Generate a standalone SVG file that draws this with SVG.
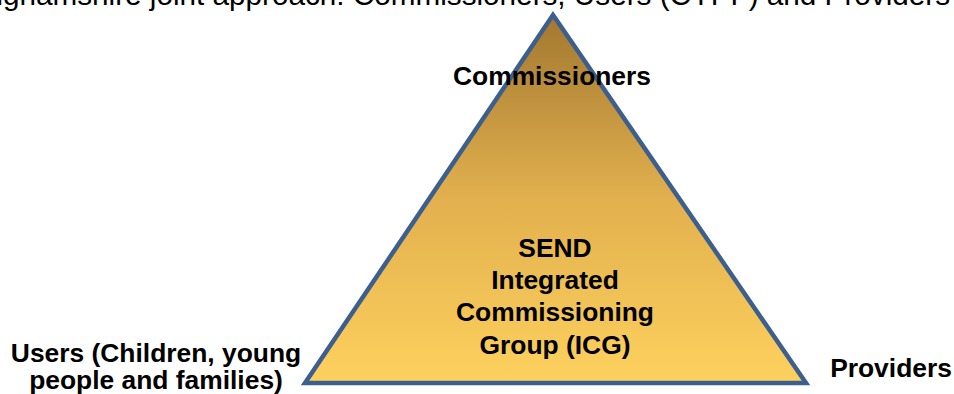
<svg xmlns="http://www.w3.org/2000/svg" width="954" height="394" viewBox="0 0 954 394">
<style>
.t{font-family:"Liberation Sans",Arial,sans-serif;font-weight:bold;font-size:26.4px;fill:#000;text-anchor:middle}
.title{font-family:"Liberation Sans",Arial,sans-serif;font-size:29.7px;fill:#000;text-anchor:end}
</style>
<defs>
<linearGradient id="g" x1="0" y1="0" x2="0" y2="1">
<stop offset="0" stop-color="#a27830"/>
<stop offset="0.5" stop-color="#e2b04e"/>
<stop offset="1" stop-color="#fdd15e"/>
</linearGradient>
</defs>
<rect width="954" height="394" fill="#fff"/>
<text class="title" x="950" y="5">inghamshire joint approach: Commissioners, Users (CYPF) and Providers</text>
<g id="triangle">
<polygon points="553,15 305,383 806,383" fill="url(#g)" stroke="#3c5f8e" stroke-width="4.5" stroke-linejoin="miter"/>
</g>
<g id="commissioners"><text class="t" x="552" y="85">Commissioners</text></g>
<g id="icg">
<text class="t" x="555" y="257">SEND<tspan x="555" dy="32">Integrated</tspan><tspan x="555" dy="32">Commissioning</tspan><tspan x="555" dy="33">Group (ICG)</tspan></text>
</g>
<g id="users">
<text class="t" x="156" y="362">Users (Children, young<tspan x="156" dy="27">people and families)</tspan></text>
</g>
<g id="providers"><text class="t" x="891" y="377">Providers</text></g>
<g id="connectors"></g>
</svg>
